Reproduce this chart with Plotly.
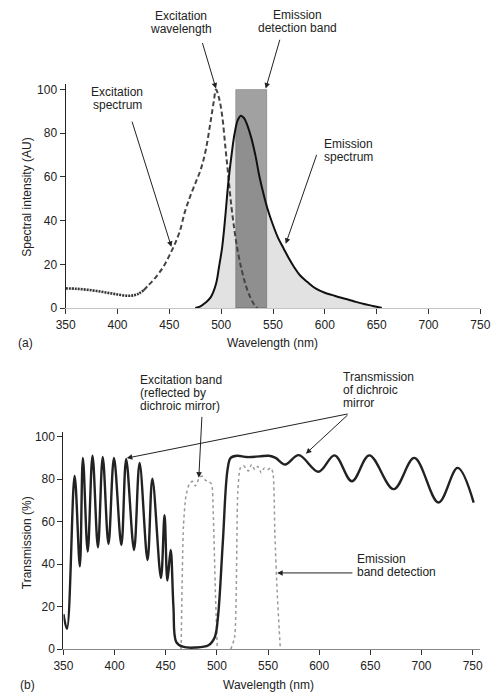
import plotly.graph_objects as go

# ---------------- Data: panel (a) ----------------
EXC_NM = [350, 360, 370, 380, 390, 400, 410, 415, 420, 425, 430, 435, 440, 445, 450, 455, 460,
          465, 470, 475, 480, 485, 490, 493, 495, 498, 501, 504, 507, 510, 513, 516, 520, 524,
          528, 532, 535]
EXC_VAL = [9, 8.8, 8.4, 7.8, 7, 6.2, 5.6, 5.8, 6.5, 8, 10.5, 13, 16, 19.5, 24, 29, 35,
           44, 51, 57, 63, 72, 86, 95, 100, 96, 88, 74, 60, 46, 35, 26, 17, 10,
           5, 1.5, 0]
EXC_SPLIT = 425  # dotted part ends / dashed part starts

EMI_NM = [475, 480, 485, 490, 495, 498, 501, 504, 507, 510, 513, 516, 519, 522, 525, 529, 533,
          537, 541, 545, 550, 555, 560, 565, 570, 576, 583, 591, 600, 607, 615, 623, 630, 638,
          645, 650, 655]
EMI_VAL = [0, 0.8, 2.5, 5, 11, 19, 28, 42, 58, 70, 80, 86, 88, 87, 84, 78, 70,
           60, 52, 45, 38, 32, 27.5, 23, 19, 15, 12, 9, 7, 6, 4.8, 3.8, 2.8, 1.8,
           1.1, 0.6, 0]

BAND_NM = [514, 544]
BAND_TOP = 100

# ---------------- Data: panel (b) ----------------
DICH_NM = [350, 353.4, 360.9, 366, 369, 373.7, 378.4, 383.7, 388.4, 394, 399.4, 406.6, 411.3,
           419, 424.4, 432.2, 436.9, 445.3, 448.8, 451.6, 454.8, 457.5, 460.3, 466.6, 479,
           491.7, 497.9, 501, 505.8, 510.4, 513.5, 519.8, 529.2, 541.7, 551, 557.4, 566.7,
           580, 599.4, 615, 632, 649, 672.8, 693, 716.6, 735.3, 751]
DICH_VAL = [16.5, 9.6, 81.5, 39, 90, 46, 91, 48, 90.4, 49.5, 90, 49, 89.5,
            46.7, 87.6, 42, 80.2, 33.5, 63, 32.3, 46.7, 20, 3.4, 1.2, 0.8,
            1.9, 5.7, 15, 50.5, 84.5, 90, 91, 90.4, 90.7, 91, 90, 86.9,
            91.3, 83.5, 91.2, 79, 91.2, 75.3, 90, 69, 85.3, 69]

EXB_NM = [465, 467.3, 469.7, 472.9, 476, 479, 482.9, 485.4, 488.5, 491.7, 494.8, 496.4, 498.5, 500.4]
EXB_VAL = [0, 58, 72, 77.6, 79, 76.8, 80.7, 81.5, 79.6, 79, 77.6, 64.5, 27, 0]

EMB_NM = [513.5, 517.3, 520.4, 522.9, 526, 528.5, 530.7, 533.9, 537, 540, 543.3, 546.4, 549.5,
          552.7, 554.8, 556.7, 558.9, 562]
EMB_VAL = [0, 5.7, 73.7, 85.3, 86.4, 85, 83.8, 86.9, 84.5, 86, 83, 85.3, 84.5,
           85.3, 83, 53.6, 27, 0]

X_TICKS = [350, 400, 450, 500, 550, 600, 650, 700, 750]
Y_TICKS = [0, 20, 40, 60, 80, 100]

W, H = 498, 700
FONT = "Liberation Sans, Arial, Helvetica, sans-serif"
TXT = "#222222"

fig = go.Figure()

# panel (a)
fig.add_trace(go.Scatter(x=EMI_NM, y=EMI_VAL, mode="lines", line=dict(width=0, shape="spline"),
                         fill="tozeroy", fillcolor="#e2e2e2", xaxis="x", yaxis="y",
                         hoverinfo="skip", showlegend=False))
bx = [BAND_NM[0], BAND_NM[0], BAND_NM[1], BAND_NM[1], BAND_NM[0]]
by = [0, BAND_TOP, BAND_TOP, 0, 0]
fig.add_trace(go.Scatter(x=bx, y=by, mode="lines", fill="toself",
                         fillcolor="rgba(0,0,0,0.37)", line=dict(width=0.6, color="rgba(0,0,0,0.35)"),
                         xaxis="x", yaxis="y", showlegend=False, hoverinfo="skip"))
i_split = EXC_NM.index(EXC_SPLIT)
fig.add_trace(go.Scatter(x=EXC_NM[:i_split + 1], y=EXC_VAL[:i_split + 1], mode="lines",
                         line=dict(color="#333333", width=2.6, dash="2px,1px", shape="spline"),
                         xaxis="x", yaxis="y", showlegend=False))
fig.add_trace(go.Scatter(x=EXC_NM[i_split:], y=EXC_VAL[i_split:], mode="lines",
                         line=dict(color="#444444", width=2, dash="5px,3px", shape="spline"),
                         xaxis="x", yaxis="y", showlegend=False))
fig.add_trace(go.Scatter(x=EMI_NM, y=EMI_VAL, mode="lines",
                         line=dict(color="#111111", width=2, shape="spline"),
                         xaxis="x", yaxis="y", showlegend=False))

# panel (b)
fig.add_trace(go.Scatter(x=EXB_NM, y=EXB_VAL, mode="lines",
                         line=dict(color="#9a9a9a", width=1.5, dash="dot", shape="spline", smoothing=0.6),
                         xaxis="x2", yaxis="y2", showlegend=False))
fig.add_trace(go.Scatter(x=EMB_NM, y=EMB_VAL, mode="lines",
                         line=dict(color="#9a9a9a", width=1.5, dash="dot", shape="spline", smoothing=0.6),
                         xaxis="x2", yaxis="y2", showlegend=False))
fig.add_trace(go.Scatter(x=DICH_NM, y=DICH_VAL, mode="lines",
                         line=dict(color="#222222", width=2.4, shape="spline", smoothing=1),
                         xaxis="x2", yaxis="y2", showlegend=False))

axis_common = dict(showgrid=False, zeroline=False, ticks="outside", ticklen=5, tickwidth=1,
                   tickcolor="#333333", tickfont=dict(family=FONT, size=12, color=TXT),
                   showline=True, fixedrange=True, ticklabeloverflow="allow")

fig.update_layout(
    width=W, height=H, margin=dict(l=0, r=0, t=0, b=0),
    paper_bgcolor="white", plot_bgcolor="white",
    font=dict(family=FONT, size=12, color=TXT),
    xaxis=dict(domain=[58 / W, 490 / W], range=[350, 750], tickvals=X_TICKS,
               linecolor="#c4c4c4", linewidth=1.2, anchor="y", **axis_common),
    yaxis=dict(domain=[(H - 310) / H, (H - 83.2) / H], range=[0, 102.5], tickvals=Y_TICKS,
               linecolor="#222222", linewidth=1.3, anchor="x", **axis_common),
    xaxis2=dict(domain=[55.7 / W, 490 / W], range=[350, 757.5], tickvals=X_TICKS,
                linecolor="#8a8a8a", linewidth=1.2, anchor="y2", **axis_common),
    yaxis2=dict(domain=[(H - 655.7) / H, (H - 436) / H], range=[0, 102], tickvals=Y_TICKS,
                linecolor="#222222", linewidth=1.3, anchor="x2", **axis_common),
)

ann = []


def text_block(lines, x, y0, anchor="center", dy=13.3):
    for i, s in enumerate(lines):
        ann.append(dict(text=s, x=x / W, y=1 - (y0 + i * dy) / H, xref="paper", yref="paper",
                        xanchor=anchor, yanchor="middle", showarrow=False,
                        font=dict(family=FONT, size=12, color=TXT)))


def arrow(tip, tail, xa, ya):
    ann.append(dict(text="", x=tip[0], y=tip[1], ax=tail[0], ay=tail[1], xref=xa, yref=ya,
                    axref=xa, ayref=ya, showarrow=True, arrowhead=2, arrowsize=1.1,
                    arrowwidth=1, arrowcolor="#222222", standoff=0))


# panel (a) labels
text_block(["Excitation", "wavelength"], 178, 14)
text_block(["Emission", "detection band"], 300, 12.7)
text_block(["Excitation", "spectrum"], 111.7, 90.7)
text_block(["Emission", "spectrum"], 352.7, 144)
arrow((495, 100.5), (481.5, 122), "x", "y")
arrow((543, 100.5), (557, 123.5), "x", "y")
arrow((452, 28), (413.6, 86), "x", "y")
arrow((562.3, 29.4), (592.6, 70.8), "x", "y")
ann.append(dict(text="Spectral intensity (AU)", x=18 / W, y=1 - 198 / H, xref="paper", yref="paper",
                textangle=-90, showarrow=False, xanchor="center", yanchor="middle",
                font=dict(family=FONT, size=12, color=TXT)))
ann.append(dict(text="Wavelength (nm)", x=274 / W, y=1 - 345 / H, xref="paper", yref="paper",
                showarrow=False, xanchor="center", yanchor="middle",
                font=dict(family=FONT, size=12, color=TXT)))
ann.append(dict(text="(a)", x=16 / W, y=1 - 345 / H, xref="paper", yref="paper",
                showarrow=False, xanchor="center", yanchor="middle",
                font=dict(family=FONT, size=12, color=TXT)))

# panel (b) labels
text_block(["Excitation band", "(reflected by", "dichroic mirror)"], 133.3, 382.7, anchor="left")
text_block(["Transmission", "of dichroic", "mirror"], 345, 380, anchor="left")
text_block(["Emission", "band detection"], 359.3, 564, anchor="left")
arrow((482.3, 80.7), (485.4, 110), "x2", "y2")
arrow((411.9, 89.9), (629.2, 110.8), "x2", "y2")
arrow((587, 92), (629.2, 110.8), "x2", "y2")
arrow((558.9, 35.9), (633.9, 35.9), "x2", "y2")
ann.append(dict(text="Transmission (%)", x=18 / W, y=1 - 548 / H, xref="paper", yref="paper",
                textangle=-90, showarrow=False, xanchor="center", yanchor="middle",
                font=dict(family=FONT, size=12, color=TXT)))
ann.append(dict(text="Wavelength (nm)", x=269 / W, y=1 - 691.7 / H, xref="paper", yref="paper",
                showarrow=False, xanchor="center", yanchor="middle",
                font=dict(family=FONT, size=12, color=TXT)))
ann.append(dict(text="(b)", x=18 / W, y=1 - 691.7 / H, xref="paper", yref="paper",
                showarrow=False, xanchor="center", yanchor="middle",
                font=dict(family=FONT, size=12, color=TXT)))

fig.update_layout(annotations=ann)

fig.write_html("out.html", config={"displayModeBar": False},
               post_script="document.body.style.margin='0';document.body.style.overflow='hidden';")
